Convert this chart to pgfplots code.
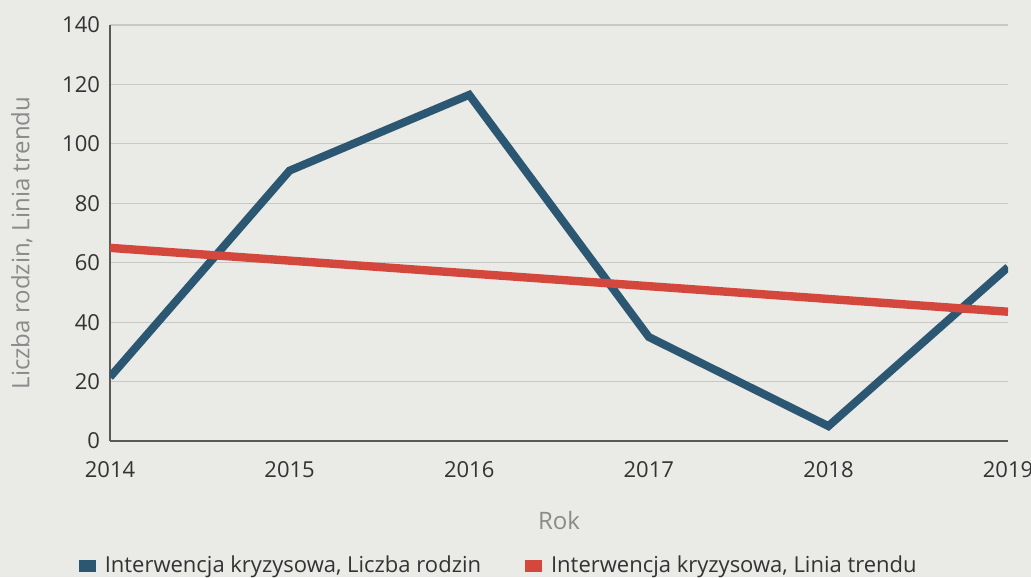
\documentclass[border=0pt]{standalone}
\usepackage{fontspec}
\setmainfont{Open Sans}
\usepackage{pgfplots}
\pgfplotsset{compat=1.18}
\definecolor{bg}{HTML}{EAEAE7}
\definecolor{lblue}{HTML}{2C5772}
\definecolor{lred}{HTML}{D4473D}
\definecolor{gridc}{HTML}{C8C8C5}
\definecolor{tickc}{HTML}{333333}
\definecolor{labc}{HTML}{8A8A8A}
\begin{document}
\begin{tikzpicture}
\fill[bg] (-55pt,-68pt) rectangle (460.5pt,220.5pt);
\begin{axis}[
  scale only axis,
  width=449pt, height=208pt,
  xmin=2014, xmax=2019,
  ymin=0, ymax=140,
  xtick={2014,2015,2016,2017,2018,2019},
  xticklabels={2014,2015,2016,2017,2018,2019},
  ytick={0,20,40,60,80,100,120,140},
  axis x line=bottom, axis y line=left,
  axis line style={draw=gray!70!black, line width=0.6pt, -},
  ymajorgrids, grid style={gridc, line width=0.6pt},
  major tick length=0pt,
  tick label style={font=\fontsize{11}{12}\selectfont, text=tickc},
  /pgf/number format/assume math mode=true,
  yticklabel style={xshift=-1.5pt},
  xticklabel style={yshift=-6.5pt},
  xlabel={Rok}, ylabel={Liczba rodzin, Linia trendu},
  label style={font=\fontsize{12}{13}\selectfont, text=labc},
  xlabel style={yshift=-10pt},
  ylabel style={yshift=8pt, xshift=-5pt},
  legend columns=2,
  legend style={draw=none, fill=none, font=\fontsize{11}{12}\selectfont, text=tickc,
    at={(0.434,-0.30)}, anchor=center,
    /tikz/every even column/.append style={column sep=20pt}},
  legend image code/.code={\fill[#1, draw=none] (0pt,-3pt) rectangle (8.5pt,3pt);
     \path[draw=none, fill=none] (0pt,0pt) -- (11pt,0pt);},
]
\addplot[lblue, line width=4pt] coordinates {
 (2014,21.5) (2015,91) (2016,116.5) (2017,35) (2018,5) (2019,58.5)};
\addlegendentry{Interwencja kryzysowa, Liczba rodzin}
\addplot[lred, line width=4.2pt] coordinates {
 (2014,65) (2019,43.5)};
\addlegendentry{Interwencja kryzysowa, Linia trendu}
\end{axis}
\pgfresetboundingbox
\useasboundingbox (-55pt,-68pt) rectangle (460.5pt,220.5pt);
\end{tikzpicture}
\end{document}
